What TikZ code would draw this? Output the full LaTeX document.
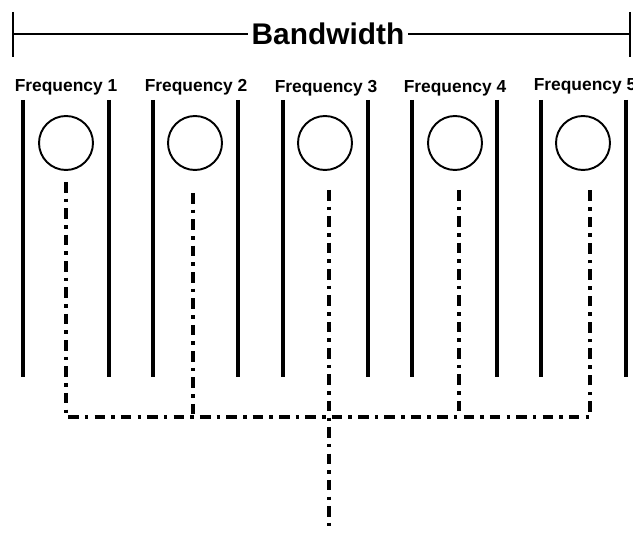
\documentclass[tikz,border=0pt]{standalone}
\usepackage{fontspec}
\setmainfont{Liberation Sans}
\usepackage{tikz}

\tikzset{
  band/.style={line width=1.2pt},
  chan/.style={line width=2.2pt},
  carrier/.style={circle, draw, line width=1.1pt, minimum size=1.08cm, inner sep=0pt},
  link/.style={line width=2.4pt, dash pattern=on 6pt off 3.5pt on 2pt off 3.5pt},
  freqlabel/.style={font=\bfseries\fontsize{9.9}{11}\selectfont, inner sep=0pt}
}

\begin{document}
\begin{tikzpicture}[x=0.02cm, y=-0.02cm]
\useasboundingbox (0,0) rectangle (633,536);
% bandwidth bar
\node[font=\bfseries\fontsize{17}{19}\selectfont, inner sep=2pt] (bw) at (328,34) {Bandwidth};
\draw[band] (13,12) -- (13,57);
\draw[band] (630,12) -- (630,57);
\draw[band] (13,34) -- (bw.west);
\draw[band] (bw.east) -- (630,34);
% labels
\node[freqlabel] (l1) at (66,87) {Frequency 1};
\node[freqlabel] (l2) at (196,87) {Frequency 2};
\node[freqlabel] (l3) at (326,88) {Frequency 3};
\node[freqlabel] (l4) at (455,88) {Frequency 4};
\node[freqlabel] (l5) at (585,86) {Frequency 5};
% channel walls
\draw[chan] (23,100) -- (23,377);
\draw[chan] (109,100) -- (109,377);
\draw[chan] (153,100) -- (153,377);
\draw[chan] (238,100) -- (238,377);
\draw[chan] (283,100) -- (283,377);
\draw[chan] (368,100) -- (368,377);
\draw[chan] (412,100) -- (412,377);
\draw[chan] (497,100) -- (497,377);
\draw[chan] (541,100) -- (541,377);
\draw[chan] (626,100) -- (626,377);
% carriers
\node[carrier] (f1) at (66,143) {};
\node[carrier] (f2) at (195,143) {};
\node[carrier] (f3) at (325,143) {};
\node[carrier] (f4) at (455,143) {};
\node[carrier] (f5) at (583,143) {};
% combining lines
\coordinate (t1) at (66,182);
\coordinate (t2) at (193,193);
\coordinate (t3) at (329,190);
\coordinate (t4) at (459,190);
\coordinate (t5) at (590,188);
\coordinate (b1) at (66,417);
\coordinate (b2) at (193,417);
\coordinate (b3) at (329,417);
\coordinate (b4) at (459,417);
\coordinate (b5) at (590,417);
\coordinate (out) at (329,532);
\draw[link] (t1) -- (b1) -- (b5) -- (t5);
\draw[link] (t2) -- (b2);
\draw[link] (t3) -- (b3) -- (out);
\draw[link] (t4) -- (b4);
\end{tikzpicture}
\end{document}
